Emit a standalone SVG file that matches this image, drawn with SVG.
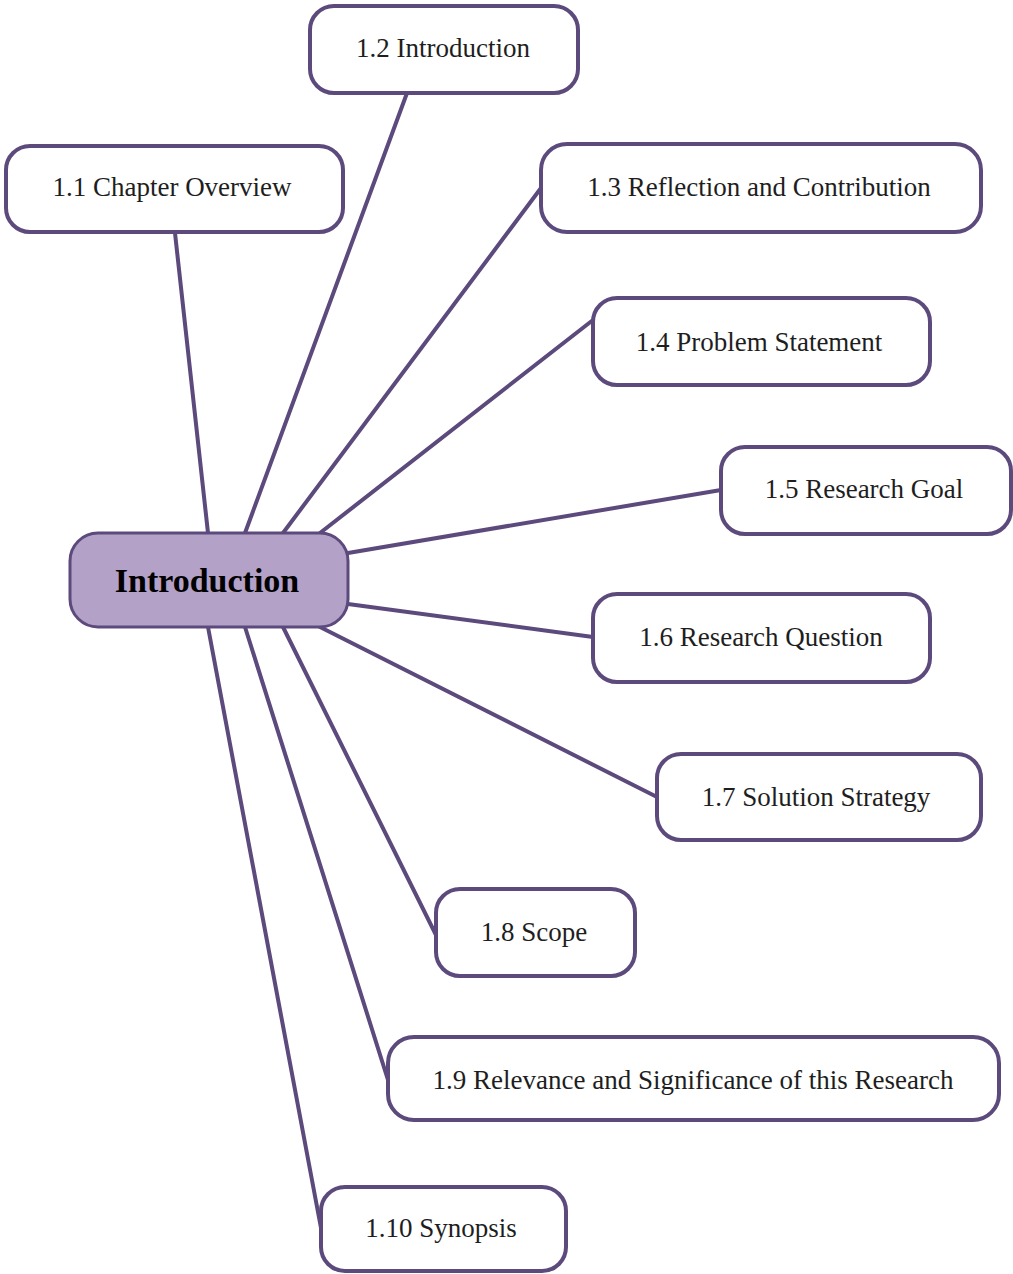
<svg xmlns="http://www.w3.org/2000/svg" width="1013" height="1274" viewBox="0 0 1013 1274">
  <style>
    .box { fill: #ffffff; stroke: #5c4a7d; stroke-width: 4; }
    .hub { fill: #b3a1c8; stroke: #5c4a7d; stroke-width: 3; }
    .link { stroke: #5c4a7d; stroke-width: 4; fill: none; stroke-linecap: round; }
    .lbl { font-family: "Liberation Serif", "Times New Roman", serif; font-size: 27px; fill: #1e1e1e; text-anchor: middle; dominant-baseline: central; }
    .hublbl { font-family: "Liberation Serif", "Times New Roman", serif; font-size: 34px; font-weight: bold; fill: #000; text-anchor: middle; dominant-baseline: central; }
  </style>
  <rect width="1013" height="1274" fill="#ffffff"/>

  <!-- spokes from the central topic to each section -->
  <g id="connectors">
    <line class="link" x1="175" y1="233" x2="208" y2="533"/>
    <line class="link" x1="407" y1="93" x2="245" y2="533"/>
    <line class="link" x1="541" y1="188" x2="283" y2="533"/>
    <line class="link" x1="593" y1="320" x2="320" y2="533"/>
    <line class="link" x1="721" y1="490" x2="348" y2="553"/>
    <line class="link" x1="593" y1="637" x2="348" y2="604"/>
    <line class="link" x1="657" y1="797" x2="320" y2="627"/>
    <line class="link" x1="436" y1="935" x2="283" y2="627"/>
    <line class="link" x1="388" y1="1080" x2="245" y2="627"/>
    <line class="link" x1="321" y1="1228" x2="208" y2="627"/>
  </g>

  <g id="hub">
    <rect class="hub" x="70" y="533" width="278" height="94" rx="28"/>
    <text class="hublbl" x="207" y="580">Introduction</text>
  </g>

  <g id="n1-1">
    <rect class="box" x="6" y="146" width="337" height="86" rx="24"/>
    <text class="lbl" x="172" y="187">1.1 Chapter Overview</text>
  </g>
  <g id="n1-2">
    <rect class="box" x="310" y="6" width="268" height="87" rx="24"/>
    <text class="lbl" x="443" y="48">1.2 Introduction</text>
  </g>
  <g id="n1-3">
    <rect class="box" x="541" y="144" width="440" height="88" rx="26"/>
    <text class="lbl" x="759" y="187">1.3 Reflection and Contribution</text>
  </g>
  <g id="n1-4">
    <rect class="box" x="593" y="298" width="337" height="87" rx="24"/>
    <text class="lbl" x="759" y="342">1.4 Problem Statement</text>
  </g>
  <g id="n1-5">
    <rect class="box" x="721" y="447" width="290" height="87" rx="24"/>
    <text class="lbl" x="864" y="489">1.5 Research Goal</text>
  </g>
  <g id="n1-6">
    <rect class="box" x="593" y="594" width="337" height="88" rx="24"/>
    <text class="lbl" x="761" y="637">1.6 Research Question</text>
  </g>
  <g id="n1-7">
    <rect class="box" x="657" y="754" width="324" height="86" rx="24"/>
    <text class="lbl" x="816" y="797">1.7 Solution Strategy</text>
  </g>
  <g id="n1-8">
    <rect class="box" x="436" y="889" width="199" height="87" rx="24"/>
    <text class="lbl" x="534" y="932">1.8 Scope</text>
  </g>
  <g id="n1-9">
    <rect class="box" x="388" y="1037" width="611" height="83" rx="26"/>
    <text class="lbl" x="693" y="1080">1.9 Relevance and Significance of this Research</text>
  </g>
  <g id="n1-10">
    <rect class="box" x="321" y="1187" width="245" height="84" rx="24"/>
    <text class="lbl" x="441" y="1228">1.10 Synopsis</text>
  </g>
</svg>
